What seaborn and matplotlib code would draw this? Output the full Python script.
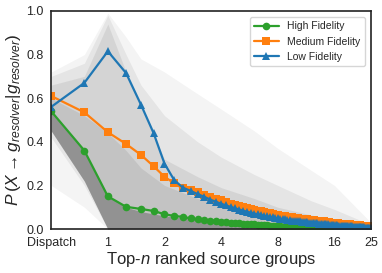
import matplotlib
matplotlib.use("Agg")
import matplotlib.pyplot as plt
import seaborn as sns
import numpy as np
import pandas as pd
from matplotlib.ticker import FixedLocator, FixedFormatter, NullLocator

# x grid: "Dispatch" is drawn at 0.5, then top-n in quarter steps up to 25
top_n = np.arange(0.5, 25.01, 0.25)

high_fidelity = [
    0.54, 0.36, 0.15, 0.102, 0.092, 0.083, 0.068, 0.060, 0.056, 0.049,
    0.044, 0.041, 0.039, 0.036, 0.034, 0.032, 0.030, 0.028, 0.026, 0.025,
    0.024, 0.022, 0.021, 0.020, 0.019, 0.018, 0.017, 0.016, 0.015, 0.014,
    0.013, 0.012, 0.011, 0.010, 0.009, 0.009, 0.008, 0.007, 0.007,
    0.006, 0.006, 0.005, 0.005, 0.005, 0.004, 0.004, 0.004,
    0.003, 0.003, 0.003, 0.003, 0.002, 0.002, 0.002, 0.002,
    0.002, 0.002, 0.001, 0.001, 0.001, 0.001, 0.001, 0.001,
    0.001, 0.001, 0.001, 0.0, 0.0, 0.0, 0.0, 0.0,
    0.0, 0.0, 0.0, 0.0, 0.0, 0.0, 0.0, 0.0,
    0.0, 0.0, 0.0, 0.0, 0.0, 0.0, 0.0, 0.0,
    0.0, 0.0, 0.0, 0.0, 0.0, 0.0, 0.0, 0.0,
    0.0, 0.0, 0.0, 0.0,
]
medium_fidelity = [
    0.61, 0.535, 0.444, 0.39, 0.34, 0.288, 0.24, 0.21, 0.186, 0.177,
    0.168, 0.158, 0.148, 0.139, 0.131, 0.124, 0.117, 0.111, 0.106, 0.101,
    0.096, 0.092, 0.088, 0.084, 0.081, 0.078, 0.075, 0.072, 0.069, 0.066,
    0.064, 0.062, 0.060, 0.058, 0.056, 0.054, 0.053, 0.051, 0.050,
    0.049, 0.048, 0.047, 0.046, 0.045, 0.044, 0.043, 0.042,
    0.041, 0.040, 0.039, 0.038, 0.037, 0.036, 0.035, 0.035,
    0.034, 0.033, 0.032, 0.031, 0.030, 0.029, 0.028, 0.027,
    0.027, 0.026, 0.026, 0.025, 0.025, 0.024, 0.024, 0.023,
    0.023, 0.022, 0.022, 0.021, 0.021, 0.020, 0.020, 0.020,
    0.019, 0.019, 0.018, 0.018, 0.018, 0.017, 0.017, 0.017,
    0.016, 0.016, 0.016, 0.015, 0.015, 0.015, 0.014, 0.014,
    0.013, 0.013, 0.012, 0.012,
]
low_fidelity = [
    0.56, 0.67, 0.815, 0.715, 0.57, 0.44, 0.30, 0.225, 0.19, 0.175,
    0.16, 0.148, 0.135, 0.125, 0.116, 0.108, 0.101, 0.095, 0.089, 0.084,
    0.079, 0.075, 0.071, 0.067, 0.064, 0.061, 0.058, 0.055, 0.053, 0.051,
    0.049, 0.047, 0.045, 0.044, 0.042, 0.041, 0.039, 0.038, 0.037,
    0.036, 0.035, 0.034, 0.033, 0.032, 0.031, 0.030, 0.029,
    0.028, 0.027, 0.026, 0.026, 0.025, 0.024, 0.023, 0.023,
    0.022, 0.021, 0.021, 0.020, 0.019, 0.019, 0.018, 0.018,
    0.017, 0.017, 0.016, 0.016, 0.015, 0.015, 0.015, 0.014,
    0.014, 0.013, 0.013, 0.013, 0.012, 0.012, 0.012, 0.011,
    0.011, 0.011, 0.010, 0.010, 0.010, 0.009, 0.009, 0.009,
    0.009, 0.008, 0.008, 0.008, 0.007, 0.007, 0.007, 0.007,
    0.006, 0.006, 0.006, 0.006,
]

# envelopes of the per-source gray lines (outer -> inner), read at a few x positions
band_x = [0.5, 0.75, 1, 1.25, 1.5, 2, 3, 4, 6, 8, 12, 16, 25]
band_a_upper = [0.72, 0.80, 0.99, 0.88, 0.78, 0.72, 0.62, 0.55, 0.45, 0.37, 0.27, 0.20, 0.03]
band_a_lower = [0.20, 0.10, 0.0, 0.0, 0.0, 0.0, 0.0, 0.0, 0.0, 0.0, 0.0, 0.0, 0.0]
band_b_upper = [0.70, 0.76, 0.98, 0.80, 0.66, 0.52, 0.40, 0.33, 0.25, 0.20, 0.13, 0.09, 0.02]
band_b_lower = [0.42, 0.20, 0.0, 0.0, 0.0, 0.0, 0.0, 0.0, 0.0, 0.0, 0.0, 0.0, 0.0]
band_c_upper = [0.66, 0.70, 0.94, 0.72, 0.56, 0.32, 0.24, 0.19, 0.14, 0.10, 0.065, 0.04, 0.01]
band_c_lower = [0.45, 0.22, 0.0, 0.0, 0.0, 0.0, 0.0, 0.0, 0.0, 0.0, 0.0, 0.0, 0.0]
band_d_upper = [0.60, 0.52, 0.44, 0.36, 0.28, 0.20, 0.14, 0.11, 0.08, 0.06, 0.04, 0.025, 0.005]
band_d_lower = [0.45, 0.22, 0.0, 0.0, 0.0, 0.0, 0.0, 0.0, 0.0, 0.0, 0.0, 0.0, 0.0]
core_upper = [0.54, 0.36, 0.15, 0.10, 0.08, 0.06, 0.045, 0.035, 0.025, 0.018, 0.01, 0.006, 0.002]
core_lower = [0.45, 0.22, 0.0, 0.0, 0.0, 0.0, 0.0, 0.0, 0.0, 0.0, 0.0, 0.0, 0.0]
band_alpha = [0.045, 0.06, 0.07, 0.08, 0.25]

groups = ["High Fidelity", "Medium Fidelity", "Low Fidelity"]
palette = {"High Fidelity": "#2ca02c", "Medium Fidelity": "#ff7f0e", "Low Fidelity": "#1f77b4"}
markers = {"High Fidelity": "o", "Medium Fidelity": "s", "Low Fidelity": "^"}

df = pd.concat([
    pd.DataFrame({"top_n": top_n, "prob": vals, "group": g})
    for g, vals in zip(groups, [high_fidelity, medium_fidelity, low_fidelity])
])

sns.set_style("white")
plt.rcParams["font.family"] = ["Liberation Sans", "DejaVu Sans"]
plt.rcParams["mathtext.fontset"] = "custom"
plt.rcParams["mathtext.rm"] = "Liberation Sans"
plt.rcParams["mathtext.it"] = "Liberation Sans:italic"

fig = plt.figure(figsize=(3.82, 2.73), dpi=100)
ax = fig.add_axes([0.134, 0.161, 0.837, 0.799])

# gray background (individual source groups)
bands = [(band_a_lower, band_a_upper), (band_b_lower, band_b_upper),
         (band_c_lower, band_c_upper), (band_d_lower, band_d_upper),
         (core_lower, core_upper)]
for (lo, hi), a in zip(bands, band_alpha):
    ax.fill_between(band_x, lo, hi, color="black", alpha=a, lw=0)

sns.lineplot(data=df, x="top_n", y="prob", hue="group", style="group",
             palette=palette, markers=markers, dashes=False, ax=ax,
             linewidth=1.6, markersize=5.5, markeredgewidth=0, sort=False)

ax.set_xscale("log", base=2)
ax.set_xlim(0.5, 25)
ax.set_ylim(0, 1)
ax.xaxis.set_major_locator(FixedLocator([0.5, 1, 2, 4, 8, 16, 25]))
ax.xaxis.set_major_formatter(FixedFormatter(["Dispatch", "1", "2", "4", "8", "16", "25"]))
ax.xaxis.set_minor_locator(NullLocator())
ax.set_yticks([0.0, 0.2, 0.4, 0.6, 0.8, 1.0])
ax.set_yticklabels(["0.0", "0.2", "0.4", "0.6", "0.8", "1.0"])
ax.tick_params(labelsize=9, pad=2)

ax.set_xlabel("Top-$n$ ranked source groups", fontsize=12, labelpad=1)
ax.set_ylabel(r"$P\,(X \rightarrow g_{resolver}|g_{resolver})$", fontsize=12.5, labelpad=2)

for s in ax.spines.values():
    s.set_color("#222222")
    s.set_linewidth(1.2)

sns.move_legend(ax, "upper right", title=None, frameon=True, fontsize=7.5,
                handlelength=2.4, borderaxespad=0.6)

fig.savefig("out.png", dpi=100)
